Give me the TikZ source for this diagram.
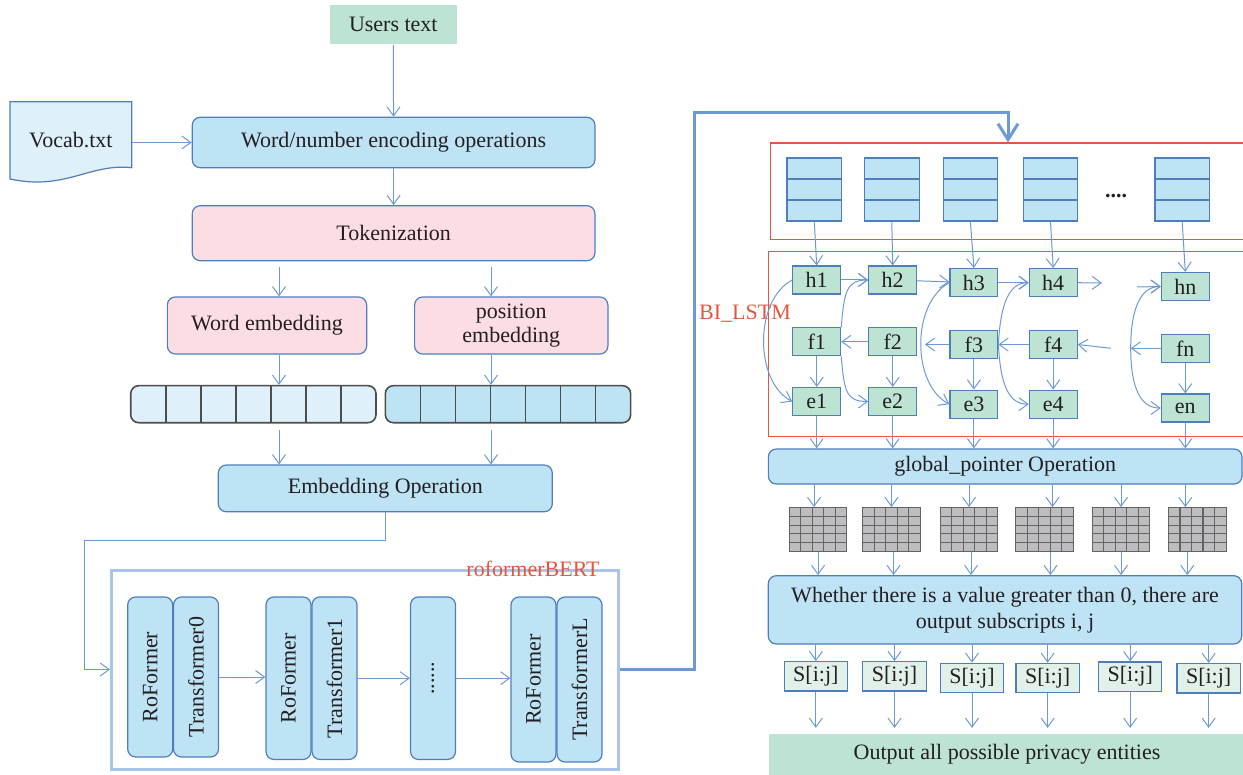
\documentclass[tikz,border=0pt]{standalone}
\usepackage{fontspec}
\setmainfont{Liberation Serif}
\usepackage{xcolor}
\usepackage{tikz}
\usetikzlibrary{arrows.meta}

\definecolor{blaufuell}{HTML}{BEE3F5}
\definecolor{hellblau}{HTML}{DEF0FA}
\definecolor{rosa}{HTML}{FCDDE4}
\definecolor{mint}{HTML}{BDE3D3}
\definecolor{sgruen}{HTML}{E1F1E9}
\definecolor{rand}{HTML}{4F7EBD}
\definecolor{pfeilfarbe}{HTML}{6C9AD6}
\definecolor{rahmen}{HTML}{A9C5E9}
\definecolor{rot}{HTML}{E8553F}
\definecolor{schrift}{HTML}{231F20}
\definecolor{gitterfuell}{HTML}{BDBDBF}
\definecolor{gitterlinie}{HTML}{636363}
\definecolor{balkenrand}{HTML}{4D4D4D}

\begin{document}
\begin{tikzpicture}[x=0.5pt,y=-0.5pt,
every node/.style={font=\fontsize{11}{13}\selectfont, text=schrift},
kasten/.style={draw=rand, line width=0.6pt, fill=blaufuell, rounded corners=4pt, inner sep=0pt},
rosakasten/.style={kasten, fill=rosa},
hochkasten/.style={kasten, minimum width=22.5pt},
gruenflach/.style={fill=mint, inner sep=0pt},
zelle/.style={draw=rand, line width=0.6pt, fill=mint, inner sep=0pt, minimum width=23.9pt, minimum height=14pt},
stapel/.style={draw=rand, line width=0.6pt, fill=blaufuell, inner sep=0pt, minimum width=27.3pt, minimum height=10.5pt},
skasten/.style={draw=rand, line width=0.6pt, fill=sgruen, inner sep=0pt, minimum width=31.65pt, minimum height=14.65pt},
balken/.style={draw=balkenrand, line width=0.8pt, rounded corners=4pt, inner sep=0pt, minimum width=122.65pt, minimum height=18.5pt},
gitter/.style={draw=gitterlinie, fill=gitterfuell, line width=0.6pt, inner sep=0pt, minimum width=28.85pt, minimum height=21.8pt},
rotrahmen/.style={draw=rot, line width=0.6pt, inner sep=0pt},
pfeil/.style={draw=pfeilfarbe, line width=0.5pt, -{Straight Barb[length=4.5pt,width=6.5pt]}},
dickpfeil/.style={draw=pfeilfarbe, line width=1.5pt, -{Straight Barb[length=8pt,width=10pt]}},
]
\useasboundingbox (0,0) rectangle (1243,775);

\node[gruenflach, minimum width=63.4pt, minimum height=19.7pt] (users) at (393.3,24.7) {Users text};

\draw[draw=rand, line width=0.6pt, fill=hellblau] (10,101.7) -- (131.7,101.7) -- (131.7,167.7) .. controls (90,163) and (65,191) .. (10,179) -- cycle;
\node[minimum width=60.85pt, minimum height=38.7pt, inner sep=0pt] (vocab) at (70.85,140.4) {Vocab.txt};

\node[kasten, minimum width=201.35pt, minimum height=25.2pt] (kodierung) at (393.6,142.5) {Word/number encoding operations};
\node[rosakasten, minimum width=201.35pt, minimum height=27.5pt] (token) at (393.6,233.2) {Tokenization};
\node[rosakasten, minimum width=99.65pt, minimum height=28.5pt] (wortemb) at (267,325.5) {Word embedding};
\node[rosakasten, minimum width=96.65pt, minimum height=28.5pt, align=center, font=\fontsize{11}{12}\selectfont] (posemb) at (511.25,325.5) {position\\embedding};

\node[balken, fill=hellblau] (balken1) at (253.35,404.2) {};
\node[balken, fill=blaufuell] (balken2) at (508,404.2) {};
\foreach \i in {1,...,6} {
  \draw[draw=balkenrand, line width=0.8pt] ({130.7+35.04*\i},385.7) -- ++(0,37);
  \draw[draw=balkenrand, line width=0.8pt] ({385.3+35.06*\i},385.7) -- ++(0,37);
}

\node[kasten, minimum width=167pt, minimum height=23.35pt] (embop) at (385.3,488.4) {Embedding Operation};

\coordinate (lspalte) at (279,0);
\coordinate (rspalte) at (491,0);

\draw[pfeil] (users) -- (kodierung);
\draw[pfeil] (vocab.east |- kodierung.west) -- (kodierung.west);
\draw[pfeil] (kodierung) -- (token);
\draw[pfeil, shorten <=3pt] (token.south -| lspalte) -- (wortemb.north -| lspalte);
\draw[pfeil, shorten <=3pt] (token.south -| rspalte) -- (posemb.north -| rspalte);
\draw[pfeil] (wortemb.south -| lspalte) -- (balken1.north -| lspalte);
\draw[pfeil] (posemb.south -| rspalte) -- (balken2.north -| rspalte);
\draw[pfeil, shorten <=3pt] (balken1.south -| lspalte) -- (embop.north -| lspalte);
\draw[pfeil, shorten <=3pt] (balken2.south -| rspalte) -- (embop.north -| rspalte);

\node[draw=rahmen, line width=1.5pt, minimum width=253.25pt, minimum height=99.5pt, inner sep=0pt] (bert) at (364.75,669.5) {};
\node[text=rot] (bertlabel) at (533,568.5) {roformerBERT};

\node[hochkasten, minimum height=80pt] (ro0) at (150.2,677) {\rotatebox{90}{RoFormer}};
\node[hochkasten, minimum height=80pt] (tr0) at (196,677) {\rotatebox{90}{Transformer0}};
\node[hochkasten, minimum height=81.25pt] (ro1) at (288.5,678.2) {\rotatebox{90}{RoFormer}};
\node[hochkasten, minimum height=81.25pt] (tr1) at (334.5,678.2) {\rotatebox{90}{Transformer1}};
\node[hochkasten, minimum height=81.25pt] (punkte) at (433,678.2) {\rotatebox{90}{......}};
\node[hochkasten, minimum height=82.5pt] (roL) at (533.5,679.5) {\rotatebox{90}{RoFormer}};
\node[hochkasten, minimum height=82.5pt] (trL) at (579.5,679.5) {\rotatebox{90}{TransformerL}};

\draw[pfeil] (tr0.east) -- (tr0.east -| ro1.west);
\draw[pfeil] (tr1.east) -- (tr1.east -| punkte.west);
\draw[pfeil] (punkte.east) -- (punkte.east -| roL.west);

\coordinate (knick1) at (84,540);
\draw[pfeil] (embop.south) |- (knick1) |- (bert.west);

\node[rotrahmen, minimum width=237.2pt, minimum height=48.3pt] (eingabe) at (1008,191.4) {};
\node[rotrahmen, minimum width=238.2pt, minimum height=92.3pt] (lstm) at (1006.8,344) {};
\node[text=rot] (lstmlabel) at (745,314) {BI\_LSTM};

\coordinate (knick2) at (694,113);
\draw[dickpfeil] (bert.east) -| (knick2) -| (eingabe.north);

\node (stpunkte) at (1116,196) {\textbf{....}};

\node[kasten, minimum width=236.85pt, minimum height=17.5pt] (gp) at (1005.2,466.5) {global\_pointer Operation};
\node[kasten, minimum width=236.7pt, minimum height=34.15pt, align=center] (wh) at (1005,609.85) {Whether there is a value greater than 0, there are\\output subscripts i, j};
\node[gruenflach, minimum width=238pt, minimum height=20.2pt] (ausgabe) at (1007,754.5) {Output all possible privacy entities};

\foreach \sx/\x/\y/\n [count=\k] in {814.3/816.7/0/1, 891.8/892.7/0/2, 970.4/973.9/2.7/3, 1050.5/1053.2/2.7/4, 1182.2/1185.3/6.5/n} {
  \node[stapel] (sta\k) at (\sx,168.5) {};
  \node[stapel] (stb\k) at (\sx,189.5) {};
  \node[stapel] (stc\k) at (\sx,210.5) {};
  \node[zelle] (h\n) at (\x,{280+\y}) {h\n};
  \node[zelle] (f\n) at (\x,{341.8+\y}) {f\n};
  \node[zelle] (e\n) at (\x,{401.5+\y}) {e\n};
  \draw[pfeil] (stc\k.south) -- (h\n.north);
  \draw[pfeil] (f\n) -- (e\n);
  \draw[pfeil] (e\n) -- (e\n |- gp.north);
}

\draw[pfeil] (h1) -- (h2);
\draw[pfeil] (h2) -- (h3);
\draw[pfeil] (h3) -- (h4);
\coordinate (hl) at (1102,283);
\coordinate (hr) at (1137,287);
\draw[pfeil] (h4.east) -- (hl);
\draw[pfeil] (hr) -- (hn.west);

\draw[pfeil] (f2) -- (f1);
\coordinate (fl3) at (925,344.5);
\draw[pfeil] (f3.west) -- (fl3);
\draw[pfeil] (f4) -- (f3);
\coordinate (fr4) at (1110.7,348.3);
\draw[pfeil] (fr4) -- (f4.east);
\coordinate (frn) at (1130.7,348.3);
\draw[pfeil] (fn.west) -- (frn);

\draw[pfeil] (h1.west) .. controls +(-38,20) and +(-38,-20) .. (e1.west);
\draw[pfeil] (f1.north east) .. controls +(3,-35) and +(-22,0) .. (h2.west);
\draw[pfeil] (f1.south east) .. controls +(3,35) and +(-22,0) .. (e2.west);
\draw[pfeil] (h3.west) .. controls +(-38,20) and +(-38,-20) .. (e3.west);
\draw[pfeil] (f3.east) .. controls +(2,-40) and +(-20,0) .. (h4.west);
\draw[pfeil] (f3.east) .. controls +(2,40) and +(-20,0) .. (e4.west);
\draw[pfeil] (frn) .. controls +(0,-40) and +(-20,0) .. (hn.west);
\draw[pfeil] (frn) .. controls +(0,40) and +(-20,0) .. (en.west);

\foreach \cx/\da/\db [count=\k] in {818/-2/0, 891.5/0/1, 969/0/1, 1044.5/4/3, 1121/0/0, 1197.3/-6/-5} {
  \node[gitter] (g\k) at (\cx,529.5) {};
  \foreach \j in {1,...,4} {
    \draw[draw=gitterlinie, line width=0.6pt] ({\cx-28.85+11.54*\j},507.7) -- ++(0,43.6);
    \draw[draw=gitterlinie, line width=0.6pt] ({\cx-28.85},{507.7+8.72*\j}) -- ++(57.7,0);
  }
  \draw[pfeil] ([xshift=\da pt]g\k.north |- gp.south) -- ([xshift=\da pt]g\k.north);
  \draw[pfeil] ([xshift=\db pt]g\k.south) -- ([xshift=\db pt]g\k.south |- wh.north);
}

\foreach \x/\y [count=\k] in {815.85/676.35, 894.5/676.35, 972/678, 1047.65/678, 1130.2/676.6, 1208.65/678.3} {
  \node[skasten] (s\k) at (\x,\y) {S[i:j]};
  \draw[pfeil] (s\k.north |- wh.south) -- (s\k.north);
  \draw[pfeil, shorten >=3pt] (s\k.south) -- (s\k.south |- ausgabe.north);
}

\end{tikzpicture}
\end{document}
